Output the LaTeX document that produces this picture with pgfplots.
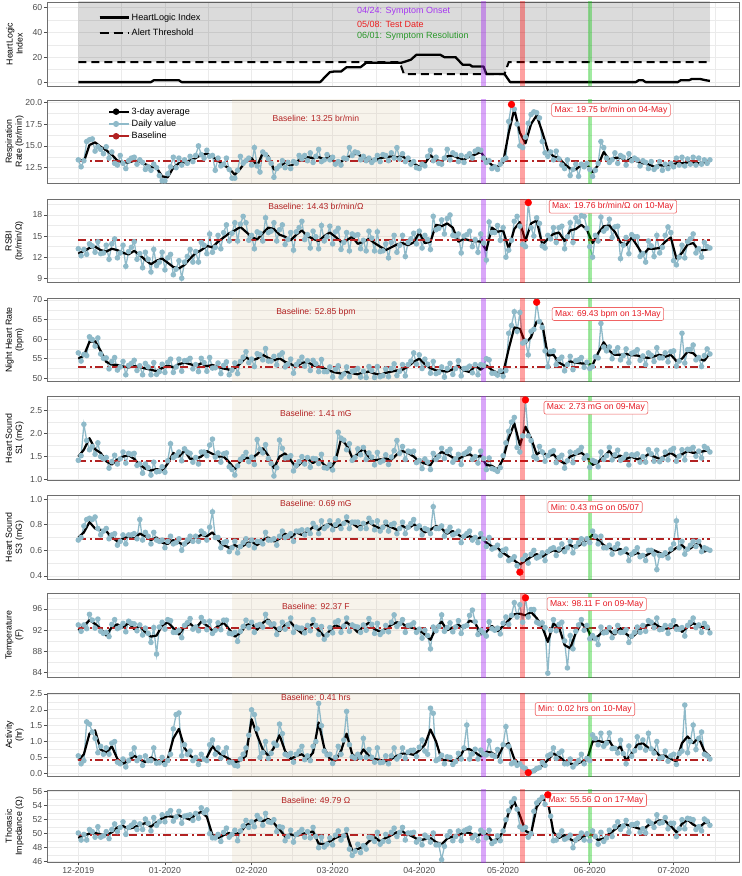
\documentclass[border=0pt]{standalone}
\usepackage{pgfplots}
\pgfplotsset{compat=1.18}
\usepackage{fontspec}
\setmainfont{Liberation Sans}

\definecolor{dailyc}{RGB}{143,186,201}
\definecolor{basec}{RGB}{178,34,34}
\definecolor{beigec}{RGB}{214,190,150}
\definecolor{vpur}{RGB}{160,32,240}
\definecolor{vred}{RGB}{255,0,0}
\definecolor{vgrn}{RGB}{0,200,0}
\definecolor{tickc}{RGB}{77,77,77}
\definecolor{annc}{RGB}{230,25,35}
\definecolor{annb}{RGB}{240,100,100}
\definecolor{framec}{RGB}{110,110,110}
\definecolor{gridc}{RGB}{235,235,235}
\definecolor{txtpur}{RGB}{165,55,240}
\definecolor{txtred}{RGB}{235,30,30}
\definecolor{txtgrn}{RGB}{40,150,40}

\newcommand\tkf{\fontsize{8.7}{10}\selectfont}
\newcommand\lbf{\fontsize{8.8}{10}\selectfont}
\newcommand\lgf{\fontsize{9.1}{11}\selectfont}
\newcommand\anf{\fontsize{8.6}{10}\selectfont}
\newcommand\ptf{\fontsize{9}{11}\selectfont}

\pgfplotsset{
 panel/.style={
  scale only axis, width=692pt, anchor=south west,
  xmin=-11.2, xmax=236.4,
  xtick={0,31,62,91,122,152,183,213}, xticklabels={},
  minor xtick={15.5,46.5,76.5,106.5,137,167.5,198,228},
  grid=both,
  major grid style={draw=gridc, line width=0.7pt},
  minor grid style={draw=gridc, line width=0.35pt},
  axis line style={draw=framec, line width=0.8pt},
  tick align=outside, major tick length=3pt, minor tick length=0pt,
  ytick pos=left, xtick pos=bottom,
  xtick style={draw=none},
  ytick style={draw=tickc, line width=0.6pt},
  yticklabel style={font=\tkf, text=tickc, inner sep=1.5pt},
  ylabel style={at={([xshift=-32.5pt]rel axis cs:0,0.5)}, anchor=center, align=center, font=\lbf, text=black},
 },
 dd/.style={dailyc, line width=1.3pt, mark=*, mark size=2.1pt, mark options={solid, fill=dailyc, draw=dailyc}, forget plot},
 av/.style={black, line width=2.2pt, line join=round, forget plot},
}

\newcommand\beige[2]{\addplot[draw=none, fill=beigec, fill opacity=0.19, forget plot] coordinates {(55,#1) (115,#1) (115,#2) (55,#2)};}
\newcommand\vlines[2]{%
 \addplot[vpur, line width=4.5pt, opacity=0.4, forget plot] coordinates {(145,#1) (145,#2)};
 \addplot[vred, line width=4.5pt, opacity=0.37, forget plot] coordinates {(159,#1) (159,#2)};
 \addplot[vgrn, line width=4.5pt, opacity=0.37, forget plot] coordinates {(183,#1) (183,#2)};}
\newcommand\baseline[1]{\addplot[basec, line width=1.8pt, dash pattern=on 8pt off 3.5pt on 2pt off 3.5pt, forget plot] coordinates {(0,#1) (226,#1)};}
\newcommand\reddot[2]{\addplot[only marks, mark=*, mark size=3.4pt, color=red, forget plot] coordinates {(#1,#2)};}
\newcommand\ann[3]{\node[draw=annb, fill=white, rounded corners=2pt, text=annc, font=\anf, inner xsep=3pt, inner ysep=2.5pt, line width=0.6pt] at (axis cs:#1,#2) {#3};}
\newcommand\btext[2]{\node[text=basec, font=\anf] at (axis cs:85,#1) {#2};}

\begin{document}
\begin{tikzpicture}
\useasboundingbox (0,0) rectangle (742pt,876pt);

% ---------------- Panel 1: HeartLogic
\begin{axis}[panel, at={(47pt,790pt)}, height=84pt, ymin=-3.1, ymax=64.3,
 ytick={0,20,40,60}, yticklabels={0,20,40,60}, minor ytick={10,30,50},
 ylabel={HeartLogic\\Index},
 legend style={draw=none, fill=none, at={(rel axis cs:0.074,0.89)}, anchor=north west, font=\lgf, row sep=3.5pt, inner sep=0pt, nodes={inner sep=2pt}},
 legend cell align=left,
 legend image code/.code={\draw[#1] (0pt,0pt) -- (23pt,0pt); \path (0pt,0pt) -- (29pt,0pt);}]
\addplot[draw=none, fill=black, fill opacity=0.14, forget plot] coordinates {(0,70) (0,16) (115,16) (116.5,6.5) (152.5,6.5) (154,16) (226,16) (226,70)};
\addplot[black, line width=2pt, dash pattern=on 8pt off 5pt, forget plot] coordinates {(0,16) (115,16) (116.5,6.5) (152.5,6.5) (154,16) (226,16)};
\addplot[black, line width=2.3pt, line join=round, forget plot] coordinates {(0,0) (26,0) (27,1.5) (36,1.5) (37,0) (86.5,0) (90,8) (91.5,8.5) (94,8.5) (96,12) (101,12) (103,15.5) (115.5,15.5) (117,16.5) (119,18) (121,22) (129.5,22) (131,20) (135,20) (137.5,14) (140,14) (141,12.5) (145,12.5) (146,6.5) (152.5,6.5) (154.5,0) (199.5,0) (200.5,1.5) (202,1.5) (203,0) (214.5,0) (215.5,1.5) (218.5,1.5) (219.5,2.5) (222.5,2.5) (224.5,1.5) (226,1)};
\vlines{-10}{70}
\addlegendimage{black, line width=2.3pt}
\addlegendentry{HeartLogic Index}
\addlegendimage{black, line width=2.3pt, dash pattern=on 9pt off 5pt}
\addlegendentry{Alert Threshold}
\node[anchor=west, inner sep=0pt, text=txtpur, font=\ptf] at (axis cs:99.7,57.0) {04/24: Symptom Onset};
\node[anchor=west, inner sep=0pt, text=txtred, font=\ptf] at (axis cs:99.7,46.2) {05/08: Test Date};
\node[anchor=west, inner sep=0pt, text=txtgrn, font=\ptf] at (axis cs:99.7,36.6) {06/01: Symptom Resolution};
\end{axis}

% ---------------- Panel 2: Respiration rate
\begin{axis}[panel, at={(47pt,692.7pt)}, height=83.3pt, ymin=10.71, ymax=20.26,
 ytick={12.5,15,17.5,20}, yticklabels={12.5,15.0,17.5,20.0}, minor ytick={11.25,13.75,16.25,18.75},
 ylabel={Respiration\\Rate (br/min)},
 legend style={draw=none, fill=none, at={(rel axis cs:0.088,0.93)}, anchor=north west, font=\lgf, row sep=1pt, inner sep=0pt, nodes={inner sep=1.6pt}},
 legend cell align=left,
 legend image code/.code={\draw[mark repeat=2,mark phase=2,#1] plot coordinates {(0pt,0pt) (7pt,0pt) (14pt,0pt)}; \path (0pt,0pt) -- (20pt,0pt);}]
\beige{0}{30}
\addplot[dd] table[x expr=\coordindex, y index=0, header=false, row sep=\\]{
13.4\\12.6\\13.3\\15.5\\15.7\\15.8\\14.4\\14.9\\14.6\\14.1\\
14.9\\13.6\\14.3\\13.0\\12.8\\13.9\\13.0\\12.4\\13.3\\13.6\\
13.7\\12.9\\13.4\\13.1\\12.3\\12.6\\12.2\\12.9\\12.5\\11.6\\
11.0\\11.0\\11.8\\12.6\\13.7\\12.5\\13.6\\12.8\\13.4\\13.0\\
13.8\\13.2\\13.9\\15.0\\14.0\\13.6\\14.5\\13.8\\13.9\\12.2\\
13.6\\12.7\\12.9\\13.6\\12.3\\11.3\\11.3\\12.2\\13.8\\13.0\\
13.3\\13.6\\12.8\\14.8\\12.7\\12.0\\14.3\\14.0\\13.5\\13.0\\
11.4\\12.4\\12.7\\13.3\\12.5\\13.1\\12.4\\13.2\\13.0\\13.9\\
13.5\\13.9\\13.3\\14.2\\13.1\\13.8\\14.6\\13.2\\13.4\\14.0\\
13.4\\13.7\\12.9\\13.2\\12.8\\13.6\\13.5\\14.8\\13.9\\14.3\\
14.2\\13.4\\13.8\\13.3\\13.6\\13.1\\13.4\\13.9\\13.2\\14.0\\
13.9\\13.3\\14.2\\13.6\\14.8\\13.5\\14.1\\13.2\\13.6\\12.9\\
13.2\\12.5\\12.4\\12.9\\12.7\\13.8\\14.5\\13.3\\13.7\\13.0\\
12.9\\13.6\\14.6\\13.4\\14.2\\14.0\\13.2\\13.9\\13.1\\13.8\\
14.1\\13.6\\14.4\\14.6\\14.5\\13.6\\13.1\\13.3\\12.4\\12.6\\
12.3\\12.9\\13.4\\13.6\\17.8\\19.75\\19.2\\17.5\\15.0\\14.8\\
16.0\\17.6\\18.6\\18.9\\18.8\\18.2\\15.5\\14.2\\13.8\\14.3\\
13.4\\14.4\\13.5\\12.8\\12.4\\13.4\\11.6\\12.3\\12.9\\11.5\\
12.9\\12.6\\13.0\\12.3\\11.5\\12.2\\13.0\\15.5\\14.8\\13.6\\
13.1\\13.4\\14.2\\13.0\\13.9\\13.7\\12.8\\14.1\\13.3\\13.6\\
13.4\\12.7\\13.3\\13.1\\12.4\\13.2\\12.3\\12.6\\13.2\\12.2\\
12.9\\12.4\\13.0\\12.6\\13.6\\12.8\\13.7\\12.7\\13.5\\12.9\\
13.7\\12.8\\13.6\\12.9\\13.4\\13.0\\13.4\\
};
\addplot[av] table[x expr=2*\coordindex, y index=0, header=false, row sep=\\]{
13.5\\13.2\\15.1\\15.4\\14.9\\14.5\\14.0\\13.3\\13.1\\13.1\\
13.3\\13.2\\12.9\\12.6\\12.5\\11.5\\11.4\\12.5\\13.0\\13.1\\
13.3\\13.6\\14.0\\14.1\\13.8\\13.3\\12.8\\12.4\\11.7\\12.4\\
13.3\\13.6\\12.7\\14.2\\13.8\\12.3\\12.6\\13.1\\12.7\\13.1\\
13.6\\13.7\\13.6\\13.7\\13.5\\13.8\\13.0\\13.2\\13.6\\14.0\\
14.1\\13.6\\13.5\\13.3\\13.6\\13.7\\13.8\\13.7\\13.8\\13.4\\
13.0\\12.6\\13.0\\13.9\\13.4\\13.2\\13.8\\13.9\\13.6\\13.4\\
13.8\\14.0\\14.3\\13.4\\12.8\\12.6\\13.1\\16.5\\19.2\\16.5\\
15.3\\17.5\\18.5\\16.6\\14.5\\13.8\\13.6\\12.9\\12.4\\12.3\\
12.8\\12.9\\12.0\\12.8\\14.3\\13.4\\13.6\\13.7\\13.2\\13.6\\
13.2\\13.0\\12.9\\12.6\\12.8\\12.7\\12.8\\13.0\\13.0\\13.1\\
13.1\\13.0\\13.1\\13.3\\
};
\baseline{13.25}
\vlines{0}{30}
\reddot{155}{19.75}
\addlegendimage{black, line width=2pt, mark=*, mark size=2.2pt}
\addlegendentry{3-day average}
\addlegendimage{dailyc, line width=1.6pt, mark=*, mark size=2.2pt}
\addlegendentry{Daily value}
\addlegendimage{basec, line width=2pt, mark=*, mark size=2.2pt}
\addlegendentry{Baseline}
\btext{18.2}{Baseline: 13.25 br/min}
\ann{190.6}{19.12}{Max: 19.75 br/min on 04-May}
\end{axis}

% ---------------- Panel 3: RSBI
\begin{axis}[panel, at={(47pt,593.3pt)}, height=83.4pt, ymin=8.37, ymax=20.23,
 ytick={9,12,15,18}, yticklabels={9,12,15,18}, minor ytick={10.5,13.5,16.5,19.5},
 ylabel={RSBI\\(br/min/Ω)}]
\beige{0}{30}
\addplot[dd] table[x expr=\coordindex, y index=0, header=false, row sep=\\]{
13.2\\12.2\\13.1\\12.4\\13.9\\13.6\\12.7\\14.2\\12.5\\12.6\\
13.7\\11.7\\13.9\\14.6\\11.9\\12.6\\13.7\\10.7\\12.8\\13.4\\
14.2\\11.7\\12.5\\10.5\\12.7\\11.7\\9.9\\13.1\\10.8\\11.3\\
12.7\\10.2\\11.9\\12.4\\9.5\\10.3\\11.5\\9.0\\11.3\\12.1\\
13.1\\11.3\\12.8\\11.3\\14.1\\13.7\\12.5\\15.3\\12.7\\13.4\\
15.1\\13.2\\15.5\\16.6\\14.3\\15.4\\16.9\\14.3\\16.7\\17.8\\
16.9\\14.4\\15.1\\13.2\\15.6\\15.4\\14.3\\17.6\\15.5\\15.7\\
16.9\\14.3\\15.9\\16.6\\13.8\\14.5\\15.5\\13.0\\15.6\\16.2\\
17.1\\14.5\\15.2\\13.3\\15.7\\14.9\\13.2\\16.5\\14.3\\14.9\\
16.4\\13.9\\15.6\\16.1\\13.1\\14.1\\15.5\\12.9\\15.3\\15.1\\
15.2\\13.2\\14.4\\12.9\\15.7\\14.7\\12.9\\15.6\\12.8\\12.9\\
13.9\\11.9\\14.1\\15.1\\12.7\\13.7\\15.1\\12.1\\14.1\\14.6\\
15.4\\13.9\\15.7\\13.3\\15.1\\14.5\\13.1\\17.8\\15.9\\16.1\\
17.3\\15.3\\17.5\\18.0\\15.1\\15.0\\15.3\\12.6\\15.0\\15.2\\
15.7\\13.5\\14.5\\12.7\\15.3\\14.0\\11.6\\17.0\\15.5\\15.5\\
16.5\\14.4\\16.2\\12.0\\13.0\\14.4\\17.1\\17.8\\16.4\\13.8\\
13.5\\19.76\\16.2\\15.0\\17.6\\16.8\\13.6\\13.3\\15.1\\14.6\\
16.2\\14.1\\16.2\\16.4\\13.2\\14.9\\16.9\\14.1\\17.6\\17.0\\
17.9\\17.8\\16.1\\13.5\\12.0\\15.1\\14.3\\17.7\\15.7\\16.1\\
17.4\\14.8\\16.3\\16.4\\11.8\\13.7\\14.8\\12.5\\15.2\\14.9\\
14.9\\12.1\\12.5\\11.3\\14.3\\13.6\\12.1\\15.1\\12.6\\13.4\\
15.1\\16.3\\15.5\\11.5\\10.9\\12.0\\13.7\\11.9\\14.2\\14.6\\
15.3\\12.6\\13.2\\12.0\\14.1\\13.5\\13.3\\
};
\addplot[av] table[x expr=2*\coordindex, y index=0, header=false, row sep=\\]{
12.5\\12.9\\13.3\\13.5\\13.0\\12.8\\13.2\\13.0\\12.6\\12.4\\
12.9\\12.3\\11.6\\11.0\\11.5\\11.8\\11.2\\10.6\\10.4\\10.9\\
11.8\\12.6\\13.0\\13.6\\13.4\\14.2\\14.8\\15.4\\15.8\\16.3\\
15.6\\14.9\\14.5\\15.4\\16.2\\16.0\\15.2\\14.9\\14.4\\15.2\\
15.8\\15.0\\14.6\\14.3\\15.0\\15.5\\14.9\\14.2\\14.4\\14.9\\
13.9\\14.2\\14.6\\14.0\\13.5\\13.0\\13.4\\13.8\\14.0\\13.7\\
14.1\\15.5\\14.0\\14.2\\16.6\\16.4\\16.8\\16.2\\14.2\\14.6\\
14.4\\14.3\\14.2\\13.0\\16.2\\15.6\\15.8\\13.2\\16.0\\17.0\\
14.3\\16.8\\17.2\\13.8\\14.6\\15.3\\15.5\\14.3\\15.8\\16.0\\
16.6\\15.9\\14.0\\15.4\\16.4\\16.5\\15.6\\14.1\\13.7\\14.8\\
13.6\\12.3\\13.2\\13.2\\13.3\\14.2\\14.8\\11.8\\12.6\\13.8\\
14.0\\13.0\\13.0\\13.2\\
};
\baseline{14.43}
\vlines{0}{30}
\reddot{161}{19.76}
\btext{19.28}{Baseline: 14.43 br/min/Ω}
\ann{191.3}{19.18}{Max: 19.76 br/min/Ω on 10-May}
\end{axis}

% ---------------- Panel 4: Night heart rate
\begin{axis}[panel, at={(47pt,494.3pt)}, height=83.4pt, ymin=49.13, ymax=70.43,
 ytick={50,55,60,65,70}, yticklabels={50,55,60,65,70}, minor ytick={52.5,57.5,62.5,67.5},
 ylabel={Night Heart Rate\\(bpm)}]
\beige{40}{80}
\addplot[dd] table[x expr=\coordindex, y index=0, header=false, row sep=\\]{
56.5\\54.4\\56.1\\55.8\\60.6\\59.9\\58.2\\60.3\\56.2\\55.1\\
55.2\\52.4\\54.3\\55.3\\52.1\\52.9\\54.3\\50.9\\53.3\\53.8\\
54.6\\52.0\\53.2\\50.9\\53.8\\52.9\\50.9\\54.0\\51.0\\51.7\\
53.6\\51.5\\54.1\\54.9\\51.5\\52.9\\54.9\\51.8\\54.5\\54.6\\
55.1\\52.4\\53.5\\51.7\\55.1\\54.0\\51.8\\55.3\\52.6\\52.7\\
53.9\\51.2\\53.3\\54.2\\50.9\\52.1\\53.9\\51.2\\54.3\\55.4\\
56.8\\54.0\\54.9\\53.0\\56.3\\56.0\\54.7\\57.6\\54.4\\54.4\\
55.6\\53.4\\55.9\\56.5\\52.9\\53.6\\54.9\\51.3\\53.5\\54.3\\
55.4\\53.1\\54.5\\52.0\\54.6\\53.7\\51.7\\54.8\\51.7\\51.7\\
52.9\\50.3\\52.3\\53.2\\50.3\\51.1\\52.9\\50.4\\51.8\\52.0\\
52.5\\50.3\\51.8\\50.2\\53.0\\52.0\\50.2\\53.0\\50.4\\50.7\\
52.4\\50.4\\52.5\\53.7\\50.7\\51.8\\53.5\\50.6\\53.5\\54.4\\
56.5\\53.6\\56.0\\52.5\\54.9\\53.6\\51.3\\54.3\\51.2\\51.5\\
52.9\\50.3\\52.5\\53.8\\51.0\\52.5\\54.5\\50.6\\52.5\\52.6\\
53.1\\51.4\\53.5\\50.9\\53.5\\53.3\\55.0\\54.7\\51.3\\51.3\\
50.8\\51.9\\50.5\\52.0\\61.5\\63.5\\67.0\\62.0\\66.8\\59.0\\
59.5\\56.0\\62.0\\62.5\\69.43\\64.5\\63.0\\57.0\\53.0\\56.8\\
57.0\\53.5\\54.8\\55.4\\51.9\\53.5\\55.6\\52.2\\54.5\\54.7\\
55.3\\52.8\\54.1\\52.5\\53.0\\55.5\\55.2\\64.0\\58.0\\57.0\\
58.0\\55.0\\56.8\\57.8\\54.7\\55.8\\57.5\\54.0\\56.4\\56.7\\
57.3\\54.6\\55.7\\53.5\\56.5\\55.9\\54.3\\57.8\\55.2\\55.2\\
56.5\\54.2\\56.8\\57.0\\53.1\\54.4\\61.5\\53.9\\57.3\\57.4\\
58.5\\54.7\\55.3\\53.0\\55.8\\57.5\\56.2\\
};
\addplot[av] table[x expr=2*\coordindex, y index=0, header=false, row sep=\\]{
55.0\\55.8\\59.3\\59.5\\57.0\\54.2\\53.5\\53.4\\53.0\\52.8\\
53.1\\52.9\\52.5\\52.2\\51.8\\52.6\\53.3\\52.8\\53.6\\54.0\\
53.6\\53.2\\53.8\\53.1\\53.4\\52.9\\52.5\\52.2\\52.6\\53.8\\
55.3\\54.6\\55.0\\56.0\\55.2\\54.6\\55.1\\54.2\\53.6\\53.0\\
53.9\\54.2\\53.3\\53.0\\52.5\\51.9\\51.5\\51.2\\51.6\\51.3\\
51.0\\51.5\\51.7\\51.2\\50.9\\51.4\\51.7\\52.0\\52.2\\53.0\\
54.2\\55.0\\53.6\\52.6\\52.0\\51.9\\51.7\\52.3\\53.2\\52.0\\
51.6\\53.2\\52.2\\53.3\\52.1\\51.4\\51.3\\57.5\\63.0\\62.6\\
59.0\\60.5\\64.5\\64.0\\55.8\\56.0\\54.0\\53.2\\54.3\\54.0\\
53.8\\53.8\\53.4\\56.5\\59.2\\57.0\\56.0\\56.0\\56.2\\55.9\\
55.8\\55.4\\55.2\\55.6\\56.0\\55.5\\56.0\\54.4\\55.0\\56.8\\
56.4\\55.0\\54.5\\56.4\\
};
\baseline{52.85}
\vlines{40}{80}
\reddot{164}{69.43}
\btext{66.94}{Baseline: 52.85 bpm}
\ann{189.5}{66.42}{Max: 69.43 bpm on 13-May}
\end{axis}

% ---------------- Panel 5: Heart sound S1
\begin{axis}[panel, at={(47pt,396pt)}, height=83.3pt, ymin=0.993, ymax=2.80,
 ytick={1,1.5,2,2.5}, yticklabels={1.0,1.5,2.0,2.5}, minor ytick={1.25,1.75,2.25,2.75},
 ylabel={Heart Sound\\S1 (mG)}]
\beige{0}{4}
\addplot[dd] table[x expr=\coordindex, y index=0, header=false, row sep=\\]{
1.42\\1.52\\2.20\\1.85\\1.65\\1.72\\1.55\\1.80\\1.50\\1.45\\
1.48\\1.25\\1.39\\1.53\\1.34\\1.45\\1.60\\1.36\\1.57\\1.55\\
1.57\\1.31\\1.34\\1.14\\1.34\\1.26\\1.10\\1.38\\1.17\\1.18\\
1.28\\1.16\\1.41\\1.78\\1.48\\1.52\\1.60\\1.41\\1.67\\1.60\\
1.57\\1.38\\1.48\\1.34\\1.60\\1.60\\1.52\\1.75\\1.88\\1.49\\
1.58\\1.38\\1.56\\1.58\\1.28\\1.22\\1.10\\1.30\\1.44\\1.50\\
1.59\\1.39\\1.49\\1.33\\1.87\\1.66\\1.58\\1.76\\1.46\\1.35\\
1.08\\1.26\\1.86\\1.68\\1.47\\1.48\\1.52\\1.19\\1.31\\1.39\\
1.50\\1.34\\1.48\\1.27\\1.46\\1.45\\1.35\\1.55\\1.26\\1.25\\
1.33\\1.21\\1.46\\2.03\\1.90\\1.86\\1.65\\1.78\\1.42\\1.48\\
1.67\\1.54\\1.70\\1.44\\1.58\\1.49\\1.32\\1.59\\1.38\\1.41\\
1.54\\1.33\\1.49\\1.63\\1.85\\1.57\\1.72\\1.44\\1.62\\1.60\\
1.62\\1.37\\1.42\\1.24\\1.45\\1.38\\1.22\\1.57\\1.44\\1.51\\
1.68\\1.46\\1.61\\1.66\\1.38\\1.45\\1.55\\1.33\\1.56\\1.60\\
1.67\\1.44\\1.50\\1.36\\1.62\\1.46\\1.22\\1.47\\1.24\\1.22\\
1.18\\1.26\\1.52\\1.80\\2.05\\2.25\\2.35\\1.70\\1.60\\1.95\\
2.73\\1.95\\1.85\\1.50\\1.45\\1.72\\1.60\\1.40\\1.52\\1.60\\
1.63\\1.37\\1.48\\1.53\\1.25\\1.41\\1.60\\1.37\\1.59\\1.63\\
1.70\\1.46\\1.52\\1.27\\1.42\\1.39\\1.28\\1.60\\1.44\\1.52\\
1.70\\1.43\\1.54\\1.64\\1.42\\1.47\\1.55\\1.32\\1.54\\1.53\\
1.56\\1.38\\1.50\\1.38\\1.65\\1.56\\1.40\\1.64\\1.39\\1.45\\
1.60\\1.43\\1.64\\1.68\\1.40\\1.51\\1.65\\1.43\\1.66\\1.66\\
1.70\\1.51\\1.62\\1.47\\1.72\\1.68\\1.60\\
};
\addplot[av] table[x expr=2*\coordindex, y index=0, header=false, row sep=\\]{
1.50\\1.65\\1.90\\1.66\\1.58\\1.40\\1.33\\1.44\\1.50\\1.53\\
1.45\\1.32\\1.24\\1.20\\1.23\\1.20\\1.35\\1.58\\1.50\\1.63\\
1.45\\1.46\\1.50\\1.62\\1.56\\1.50\\1.50\\1.38\\1.23\\1.40\\
1.47\\1.47\\1.55\\1.68\\1.52\\1.25\\1.50\\1.57\\1.42\\1.27\\
1.38\\1.46\\1.36\\1.45\\1.32\\1.25\\1.40\\1.88\\1.75\\1.48\\
1.55\\1.68\\1.48\\1.42\\1.44\\1.46\\1.43\\1.55\\1.62\\1.58\\
1.50\\1.40\\1.35\\1.32\\1.50\\1.60\\1.55\\1.48\\1.45\\1.52\\
1.55\\1.48\\1.52\\1.32\\1.30\\1.22\\1.45\\1.90\\2.22\\1.75\\
2.15\\1.90\\1.55\\1.62\\1.50\\1.55\\1.42\\1.35\\1.50\\1.55\\
1.58\\1.50\\1.32\\1.38\\1.50\\1.62\\1.48\\1.52\\1.45\\1.50\\
1.44\\1.48\\1.55\\1.50\\1.45\\1.52\\1.58\\1.50\\1.55\\1.62\\
1.58\\1.60\\1.62\\1.65\\
};
\baseline{1.41}
\vlines{0}{4}
\reddot{160}{2.73}
\btext{2.43}{Baseline: 1.41 mG}
\ann{185.2}{2.56}{Max: 2.73 mG on 09-May}
\end{axis}

% ---------------- Panel 6: Heart sound S3
\begin{axis}[panel, at={(47pt,296.7pt)}, height=83.6pt, ymin=0.374, ymax=1.026,
 ytick={0.4,0.6,0.8,1.0}, yticklabels={0.4,0.6,0.8,1.0}, minor ytick={0.5,0.7,0.9},
 ylabel={Heart Sound\\S3 (mG)}]
\beige{0}{2}
\addplot[dd] table[x expr=\coordindex, y index=0, header=false, row sep=\\]{
0.68\\0.70\\0.79\\0.84\\0.85\\0.84\\0.86\\0.77\\0.72\\0.75\\
0.77\\0.69\\0.72\\0.73\\0.64\\0.67\\0.72\\0.65\\0.72\\0.72\\
0.73\\0.69\\0.84\\0.68\\0.74\\0.71\\0.65\\0.74\\0.68\\0.67\\
0.68\\0.62\\0.67\\0.71\\0.65\\0.66\\0.69\\0.60\\0.65\\0.68\\
0.71\\0.67\\0.71\\0.67\\0.75\\0.73\\0.68\\0.78\\0.90\\0.70\\
0.70\\0.62\\0.66\\0.67\\0.59\\0.62\\0.67\\0.58\\0.63\\0.66\\
0.69\\0.64\\0.68\\0.62\\0.67\\0.67\\0.65\\0.74\\0.68\\0.68\\
0.69\\0.64\\0.71\\0.75\\0.70\\0.71\\0.73\\0.67\\0.75\\0.75\\
0.76\\0.72\\0.76\\0.73\\0.81\\0.78\\0.73\\0.83\\0.77\\0.79\\
0.83\\0.76\\0.80\\0.83\\0.77\\0.81\\0.86\\0.77\\0.82\\0.82\\
0.82\\0.77\\0.81\\0.77\\0.85\\0.82\\0.76\\0.83\\0.75\\0.78\\
0.82\\0.75\\0.80\\0.81\\0.73\\0.77\\0.82\\0.73\\0.78\\0.81\\
0.84\\0.77\\0.79\\0.72\\0.77\\0.76\\0.73\\0.94\\0.77\\0.77\\
0.79\\0.71\\0.75\\0.78\\0.72\\0.73\\0.75\\0.66\\0.71\\0.73\\
0.75\\0.68\\0.70\\0.66\\0.73\\0.69\\0.63\\0.70\\0.61\\0.62\\
0.64\\0.56\\0.60\\0.61\\0.52\\0.53\\0.55\\0.48\\0.43\\0.53\\
0.56\\0.50\\0.57\\0.60\\0.54\\0.55\\0.58\\0.52\\0.59\\0.61\\
0.62\\0.56\\0.61\\0.65\\0.59\\0.62\\0.67\\0.58\\0.63\\0.66\\
0.69\\0.65\\0.69\\0.66\\0.75\\0.71\\0.65\\0.71\\0.62\\0.62\\
0.64\\0.57\\0.62\\0.65\\0.58\\0.59\\0.61\\0.52\\0.57\\0.59\\
0.62\\0.55\\0.56\\0.52\\0.60\\0.60\\0.57\\0.45\\0.56\\0.56\\
0.58\\0.54\\0.61\\0.65\\0.83\\0.62\\0.67\\0.57\\0.61\\0.64\\
0.67\\0.63\\0.67\\0.59\\0.62\\0.61\\0.60\\
};
\addplot[av] table[x expr=2*\coordindex, y index=0, header=false, row sep=\\]{
0.70\\0.74\\0.82\\0.77\\0.76\\0.75\\0.70\\0.67\\0.69\\0.71\\
0.69\\0.73\\0.71\\0.68\\0.70\\0.66\\0.65\\0.68\\0.66\\0.64\\
0.67\\0.70\\0.72\\0.71\\0.74\\0.68\\0.64\\0.62\\0.64\\0.62\\
0.65\\0.67\\0.64\\0.68\\0.70\\0.67\\0.69\\0.73\\0.70\\0.74\\
0.72\\0.75\\0.78\\0.76\\0.79\\0.81\\0.78\\0.80\\0.83\\0.81\\
0.78\\0.80\\0.82\\0.79\\0.77\\0.80\\0.78\\0.76\\0.79\\0.77\\
0.80\\0.78\\0.74\\0.76\\0.79\\0.77\\0.73\\0.75\\0.72\\0.70\\
0.71\\0.69\\0.70\\0.66\\0.63\\0.62\\0.58\\0.55\\0.52\\0.49\\
0.52\\0.55\\0.57\\0.55\\0.58\\0.60\\0.59\\0.62\\0.64\\0.62\\
0.65\\0.68\\0.72\\0.68\\0.64\\0.62\\0.60\\0.61\\0.58\\0.56\\
0.58\\0.55\\0.57\\0.60\\0.58\\0.56\\0.59\\0.62\\0.64\\0.60\\
0.63\\0.66\\0.59\\0.61\\
};
\baseline{0.69}
\vlines{0}{2}
\reddot{158}{0.43}
\btext{0.969}{Baseline: 0.69 mG}
\ann{184.9}{0.938}{Min: 0.43 mG on 05/07}
\end{axis}

% ---------------- Panel 7: Temperature
\begin{axis}[panel, at={(47pt,198.7pt)}, height=84pt, ymin=83.13, ymax=98.96,
 ytick={84,88,92,96}, yticklabels={84,88,92,96}, minor ytick={86,90,94,98},
 ylabel={Temperature\\(F)}]
\beige{70}{110}
\addplot[dd] table[x expr=\coordindex, y index=0, header=false, row sep=\\]{
93.0\\91.8\\93.0\\92.3\\95.0\\93.9\\92.4\\94.1\\91.8\\91.4\\
91.6\\90.8\\93.1\\94.0\\92.3\\92.6\\93.3\\91.7\\93.7\\93.3\\
93.2\\91.9\\93.0\\91.1\\92.4\\91.4\\89.7\\92.5\\87.5\\92.6\\
93.5\\92.2\\94.0\\93.8\\91.6\\91.6\\92.0\\90.6\\92.9\\93.4\\
94.2\\92.2\\92.6\\91.9\\94.4\\93.6\\92.1\\93.7\\91.4\\92.0\\
93.4\\92.1\\93.9\\93.9\\91.4\\91.3\\91.6\\89.9\\91.8\\92.7\\
93.9\\92.5\\93.5\\91.6\\92.9\\93.1\\92.6\\95.0\\93.5\\93.0\\
93.2\\91.2\\92.3\\93.5\\92.2\\93.1\\94.3\\91.6\\92.6\\92.4\\
92.4\\91.5\\92.9\\91.9\\94.0\\92.9\\91.2\\92.7\\90.3\\91.1\\
92.5\\91.5\\93.5\\93.8\\91.6\\92.8\\94.3\\91.8\\93.0\\92.7\\
92.6\\91.6\\93.0\\92.0\\94.2\\93.1\\91.4\\93.3\\91.2\\91.7\\
92.9\\91.7\\93.5\\94.9\\92.7\\93.2\\94.0\\91.6\\92.9\\93.0\\
93.4\\91.6\\92.2\\90.5\\92.0\\91.0\\88.5\\92.6\\91.9\\92.7\\
94.9\\91.8\\92.5\\93.4\\91.7\\92.6\\93.8\\91.4\\92.7\\92.9\\
94.8\\95.8\\93.6\\91.2\\92.0\\91.5\\90.9\\93.6\\92.3\\92.0\\
92.4\\91.3\\93.3\\94.5\\93.1\\94.8\\97.2\\94.5\\96.8\\93.5\\
98.11\\94.5\\95.9\\95.9\\93.5\\93.2\\93.4\\92.5\\83.9\\92.0\\
94.0\\91.9\\93.1\\93.5\\90.0\\84.9\\91.0\\88.5\\91.8\\93.0\\
94.0\\92.0\\92.9\\90.4\\91.0\\90.4\\89.3\\92.6\\91.5\\91.6\\
92.5\\90.6\\91.7\\92.9\\91.6\\91.6\\92.1\\89.7\\90.9\\91.6\\
92.6\\91.6\\92.9\\91.8\\93.8\\93.5\\92.5\\94.3\\92.1\\92.2\\
92.9\\91.4\\92.9\\93.8\\92.2\\92.2\\92.5\\90.9\\92.9\\93.5\\
94.3\\92.5\\93.0\\91.6\\93.3\\92.6\\91.5\\
};
\addplot[av] table[x expr=2*\coordindex, y index=0, header=false, row sep=\\]{
92.0\\92.8\\93.9\\93.2\\92.3\\91.0\\92.6\\93.1\\92.5\\93.4\\
92.2\\92.8\\91.6\\90.8\\91.0\\92.9\\93.5\\92.4\\91.2\\92.6\\
93.2\\92.4\\93.6\\92.9\\91.9\\92.8\\93.4\\92.2\\90.8\\91.5\\
92.9\\93.3\\92.1\\93.4\\94.0\\92.6\\91.8\\93.0\\93.5\\92.3\\
91.4\\92.7\\93.2\\92.0\\90.8\\91.9\\93.0\\92.4\\93.5\\92.7\\
91.6\\92.8\\93.4\\92.2\\91.7\\92.3\\93.0\\93.5\\93.2\\92.6\\
92.4\\92.0\\91.2\\90.2\\92.4\\93.6\\92.0\\92.5\\93.0\\92.4\\
93.8\\93.4\\91.2\\91.7\\92.8\\91.8\\92.8\\93.9\\95.0\\95.1\\
94.8\\95.4\\94.3\\92.6\\89.8\\93.2\\92.6\\89.2\\88.6\\91.5\\
93.3\\92.4\\90.3\\90.9\\91.9\\91.9\\91.2\\92.4\\91.3\\90.6\\
91.6\\92.7\\93.0\\93.3\\92.6\\92.3\\92.4\\93.0\\91.7\\92.6\\
93.3\\92.8\\92.5\\92.1\\
};
\baseline{92.37}
\vlines{70}{110}
\reddot{160}{98.11}
\btext{96.57}{Baseline: 92.37 F}
\ann{185.5}{96.94}{Max: 98.11 F on 09-May}
\end{axis}

% ---------------- Panel 8: Activity
\begin{axis}[panel, at={(47pt,99.3pt)}, height=83.4pt, ymin=-0.107, ymax=2.52,
 ytick={0,0.5,1,1.5,2,2.5}, yticklabels={0.0,0.5,1.0,1.5,2.0,2.5}, minor ytick={0.25,0.75,1.25,1.75,2.25},
 ylabel={Activity\\(hr)}]
\beige{-1}{4}
\addplot[dd] table[x expr=\coordindex, y index=0, header=false, row sep=\\]{
0.55\\0.30\\0.40\\1.62\\1.55\\1.30\\1.10\\0.65\\0.85\\0.60\\
0.80\\0.60\\0.95\\1.00\\0.35\\0.30\\0.45\\0.20\\0.40\\0.60\\
0.80\\0.40\\0.50\\0.25\\0.55\\0.40\\0.40\\0.80\\0.32\\0.33\\
0.50\\0.28\\0.40\\0.60\\1.40\\1.85\\1.90\\0.55\\0.90\\0.60\\
0.70\\0.40\\0.50\\0.28\\0.60\\0.45\\0.40\\0.90\\1.05\\0.60\\
0.80\\0.48\\0.65\\0.80\\0.35\\0.35\\0.25\\0.23\\0.45\\0.60\\
0.80\\1.20\\2.00\\1.85\\1.40\\0.50\\0.65\\1.00\\0.47\\0.63\\
0.95\\0.88\\1.55\\1.25\\0.60\\0.55\\0.63\\0.35\\0.60\\0.70\\
0.85\\0.43\\0.55\\0.40\\0.85\\1.00\\2.20\\1.50\\0.70\\0.58\\
0.60\\0.31\\0.50\\0.85\\0.60\\1.05\\1.95\\0.90\\0.52\\0.48\\
0.60\\0.50\\1.10\\0.50\\0.75\\0.50\\0.35\\0.80\\0.34\\0.35\\
0.55\\0.30\\0.55\\0.80\\0.45\\0.54\\0.80\\0.47\\0.67\\0.72\\
0.73\\0.53\\0.82\\1.05\\0.70\\0.60\\2.05\\1.89\\0.40\\0.45\\
0.57\\0.30\\0.52\\0.50\\0.28\\0.37\\0.63\\0.45\\0.80\\1.52\\
0.45\\0.61\\0.76\\0.45\\0.73\\0.61\\0.58\\1.02\\0.57\\0.53\\
0.75\\0.38\\0.90\\1.47\\0.85\\0.30\\0.35\\0.25\\0.30\\0.20\\
0.15\\0.02\\0.05\\0.08\\0.15\\0.18\\0.34\\0.25\\0.55\\0.60\\
0.80\\0.47\\0.63\\0.70\\0.30\\0.30\\0.45\\0.20\\0.30\\0.40\\
0.60\\0.30\\0.47\\0.40\\1.21\\1.10\\0.90\\1.26\\0.85\\0.95\\
1.27\\0.78\\0.79\\0.64\\1.04\\0.62\\0.30\\0.86\\0.54\\0.71\\
1.15\\0.81\\1.05\\0.73\\1.26\\0.77\\0.64\\1.00\\0.47\\0.50\\
0.70\\0.38\\0.55\\0.60\\0.28\\0.62\\0.70\\2.15\\0.65\\1.00\\
1.52\\0.75\\1.10\\1.30\\0.60\\0.55\\0.45\\
};
\addplot[av] table[x expr=2*\coordindex, y index=0, header=false, row sep=\\]{
0.40\\0.60\\1.25\\1.35\\0.75\\0.65\\0.85\\0.45\\0.30\\0.40\\
0.55\\0.45\\0.35\\0.50\\0.40\\0.35\\0.45\\1.10\\1.40\\0.80\\
0.55\\0.45\\0.40\\0.50\\0.85\\0.65\\0.55\\0.45\\0.35\\0.40\\
0.55\\1.70\\1.20\\0.75\\0.55\\0.80\\1.20\\0.70\\0.45\\0.55\\
0.60\\0.45\\0.65\\1.60\\0.80\\0.45\\0.40\\0.70\\1.25\\0.60\\
0.45\\0.75\\0.55\\0.45\\0.42\\0.38\\0.45\\0.55\\0.62\\0.62\\
0.58\\0.72\\0.90\\1.38\\1.00\\0.42\\0.42\\0.38\\0.45\\0.75\\
0.76\\0.66\\0.53\\0.68\\0.65\\0.50\\0.85\\0.95\\0.45\\0.28\\
0.10\\0.04\\0.10\\0.24\\0.42\\0.62\\0.53\\0.38\\0.30\\0.28\\
0.36\\0.42\\1.00\\1.02\\0.98\\1.02\\0.74\\0.84\\0.40\\0.62\\
0.90\\0.95\\0.80\\0.74\\0.55\\0.55\\0.45\\0.38\\0.95\\1.16\\
0.95\\1.12\\0.70\\0.53\\
};
\baseline{0.41}
\vlines{-1}{4}
\reddot{161}{0.02}
\btext{2.40}{Baseline: 0.41 hrs}
\ann{181.3}{2.02}{Min: 0.02 hrs on 10-May}
\end{axis}

% ---------------- Panel 9: Thoracic impedance
\begin{axis}[panel, at={(47pt,13.5pt)}, height=72.5pt, ymin=45.89, ymax=56.24,
 ytick={46,48,50,52,54,56}, yticklabels={46,48,50,52,54,56}, minor ytick={47,49,51,53,55},
 ylabel={Thorasic\\Impedance (Ω)},
 xticklabels={12-2019,01-2020,02-2020,03-2020,04-2020,05-2020,06-2020,07-2020},
 xtick style={draw=tickc, line width=0.6pt},
 xticklabel style={font=\tkf, text=tickc, inner sep=1.5pt}]
\beige{40}{60}
\addplot[dd] table[x expr=\coordindex, y index=0, header=false, row sep=\\]{
50.1\\49.1\\49.9\\49.1\\50.6\\50.3\\49.5\\51.0\\49.5\\49.7\\
50.3\\49.3\\50.6\\51.4\\50.3\\50.9\\51.7\\49.9\\50.9\\51.2\\
51.6\\50.6\\51.4\\50.6\\52.1\\51.5\\50.4\\52.3\\51.2\\51.7\\
52.7\\51.7\\52.9\\53.3\\51.8\\52.4\\53.2\\51.5\\52.5\\52.6\\
52.7\\51.9\\52.9\\52.2\\53.7\\53.0\\53.4\\50.0\\49.4\\49.4\\
49.9\\48.9\\50.2\\50.8\\49.5\\49.9\\50.5\\49.0\\50.4\\51.1\\
51.9\\50.9\\51.7\\51.0\\52.6\\52.1\\51.2\\52.9\\51.7\\51.6\\
52.0\\50.3\\51.0\\50.9\\49.0\\49.6\\50.5\\48.8\\49.9\\50.2\\
50.6\\49.5\\50.3\\49.4\\50.9\\49.6\\48.0\\49.5\\48.1\\48.5\\
49.4\\48.4\\49.8\\50.4\\49.1\\49.7\\50.6\\47.8\\46.9\\47.5\\
48.5\\47.3\\48.3\\47.8\\49.5\\49.4\\48.9\\50.2\\48.5\\48.9\\
49.9\\48.9\\50.2\\50.8\\49.6\\50.2\\50.9\\49.1\\50.1\\50.1\\
50.2\\48.8\\49.2\\48.4\\49.8\\49.5\\48.8\\50.1\\48.4\\48.4\\
46.3\\48.2\\49.7\\50.3\\49.0\\49.6\\50.4\\49.0\\50.4\\50.6\\
50.8\\49.4\\49.8\\49.0\\50.5\\50.2\\49.4\\50.5\\48.6\\48.9\\
49.7\\49.0\\50.4\\52.0\\53.3\\54.5\\55.0\\53.5\\51.0\\50.6\\
50.9\\49.5\\50.0\\53.2\\54.4\\54.8\\55.2\\54.2\\55.56\\52.5\\
49.0\\49.1\\49.8\\50.4\\49.2\\49.4\\49.8\\48.0\\49.1\\49.5\\
50.1\\49.1\\50.0\\49.0\\50.4\\49.6\\48.5\\50.2\\48.9\\49.4\\
50.5\\49.6\\51.0\\51.7\\50.6\\51.1\\51.9\\50.2\\51.3\\51.3\\
51.5\\50.2\\50.7\\50.1\\51.8\\51.5\\50.9\\52.7\\51.5\\51.6\\
52.3\\50.7\\51.5\\51.5\\49.6\\50.7\\52.0\\50.7\\52.2\\52.1\\
52.0\\50.6\\51.0\\50.4\\52.1\\51.8\\51.2\\
};
\addplot[av] table[x expr=2*\coordindex, y index=0, header=false, row sep=\\]{
49.4\\49.8\\50.0\\50.1\\49.9\\49.8\\50.2\\50.9\\51.1\\50.7\\
50.9\\51.3\\51.5\\51.0\\51.6\\52.2\\52.5\\52.4\\52.6\\52.3\\
52.0\\52.8\\53.1\\52.4\\49.8\\49.4\\49.8\\50.1\\49.9\\50.2\\
51.2\\51.6\\52.0\\51.8\\52.1\\51.5\\50.6\\49.6\\49.9\\49.7\\
49.9\\50.2\\50.3\\48.6\\48.5\\48.9\\49.4\\49.7\\50.0\\47.6\\
47.8\\48.2\\48.9\\49.5\\48.9\\49.4\\49.8\\50.2\\50.3\\49.9\\
49.5\\49.1\\49.2\\49.4\\48.8\\48.5\\49.3\\49.6\\49.8\\50.2\\
50.1\\49.7\\49.9\\50.0\\49.0\\49.2\\50.3\\53.0\\54.6\\52.6\\
50.4\\50.0\\53.8\\55.0\\54.6\\50.2\\49.4\\49.8\\49.2\\48.9\\
49.4\\49.9\\49.8\\49.1\\49.3\\50.0\\50.6\\51.2\\51.3\\51.1\\
50.8\\50.6\\51.2\\51.5\\51.9\\51.8\\51.1\\50.2\\51.4\\52.0\\
51.3\\50.9\\51.5\\51.6\\
};
\baseline{49.79}
\vlines{40}{60}
\reddot{168}{55.56}
\btext{54.8}{Baseline: 49.79 Ω}
\ann{185.2}{54.8}{Max: 55.56 Ω on 17-May}
\end{axis}
\end{tikzpicture}
\end{document}
